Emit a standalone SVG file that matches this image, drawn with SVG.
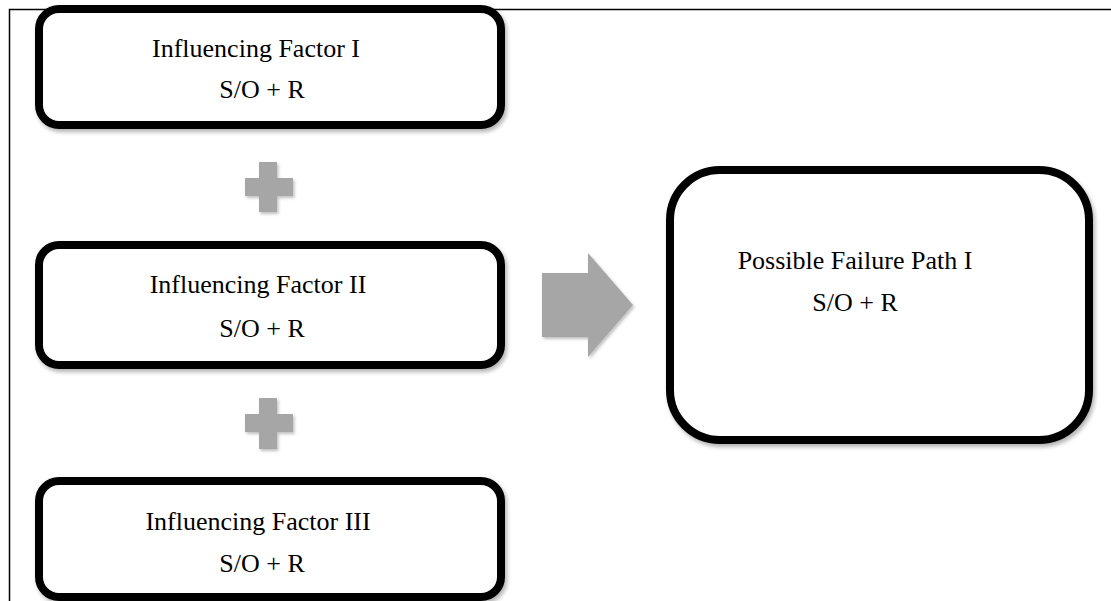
<svg xmlns="http://www.w3.org/2000/svg" width="1111" height="601" viewBox="0 0 1111 601">
  <style>
    .box { fill: #ffffff; stroke: #000000; stroke-width: 8; }
    .lbl { font-family: "Liberation Serif", "Times New Roman", serif; font-size: 26px; fill: #000000; text-anchor: middle; }
    .sym { fill: #a6a6a6; }
  </style>
  <defs>
    <filter id="shadow" x="-10%" y="-10%" width="125%" height="130%">
      <feDropShadow dx="2" dy="3" stdDeviation="2" flood-color="#000000" flood-opacity="0.3"/>
    </filter>
    <filter id="softShadow" x="-20%" y="-20%" width="150%" height="150%">
      <feDropShadow dx="1.5" dy="2" stdDeviation="1.5" flood-color="#000000" flood-opacity="0.25"/>
    </filter>
  </defs>

  <rect width="1111" height="601" fill="#ffffff"/>

  <!-- outer frame -->
  <path d="M9.5 601 V9.5 H1111" fill="none" stroke="#000000" stroke-width="1.5"/>

  <g id="factor-1">
    <rect class="box" x="39" y="9" width="462" height="116" rx="20" filter="url(#shadow)"/>
    <text class="lbl" x="256" y="57">Influencing Factor I</text>
    <text class="lbl" x="262" y="98">S/O + R</text>
  </g>

  <g id="factor-2">
    <rect class="box" x="39" y="245" width="462" height="120" rx="20" filter="url(#shadow)"/>
    <text class="lbl" x="258" y="293">Influencing Factor II</text>
    <text class="lbl" x="262" y="337">S/O + R</text>
  </g>

  <g id="factor-3">
    <rect class="box" x="39" y="481" width="462" height="116" rx="20" filter="url(#shadow)"/>
    <text class="lbl" x="258" y="530">Influencing Factor III</text>
    <text class="lbl" x="262" y="572">S/O + R</text>
  </g>

  <g id="failure-path">
    <rect class="box" x="670" y="170" width="419" height="270" rx="50" filter="url(#shadow)"/>
    <text class="lbl" x="855" y="269">Possible Failure Path I</text>
    <text class="lbl" x="855" y="311">S/O + R</text>
  </g>

  <g id="connectors">
    <!-- plus signs between factors -->
    <path class="sym" filter="url(#softShadow)" d="M259 162 H277 V178 H293 V196 H277 V212 H259 V196 H245 V178 H259 Z"/>
    <path class="sym" filter="url(#softShadow)" d="M259 398 H277 V414 H293 V432 H277 V449 H259 V432 H245 V414 H259 Z"/>
    <!-- block arrow to failure path -->
    <path class="sym" filter="url(#softShadow)" d="M542 273 H588 V253 L633 305 L588 357 V337 H542 Z"/>
  </g>
</svg>
